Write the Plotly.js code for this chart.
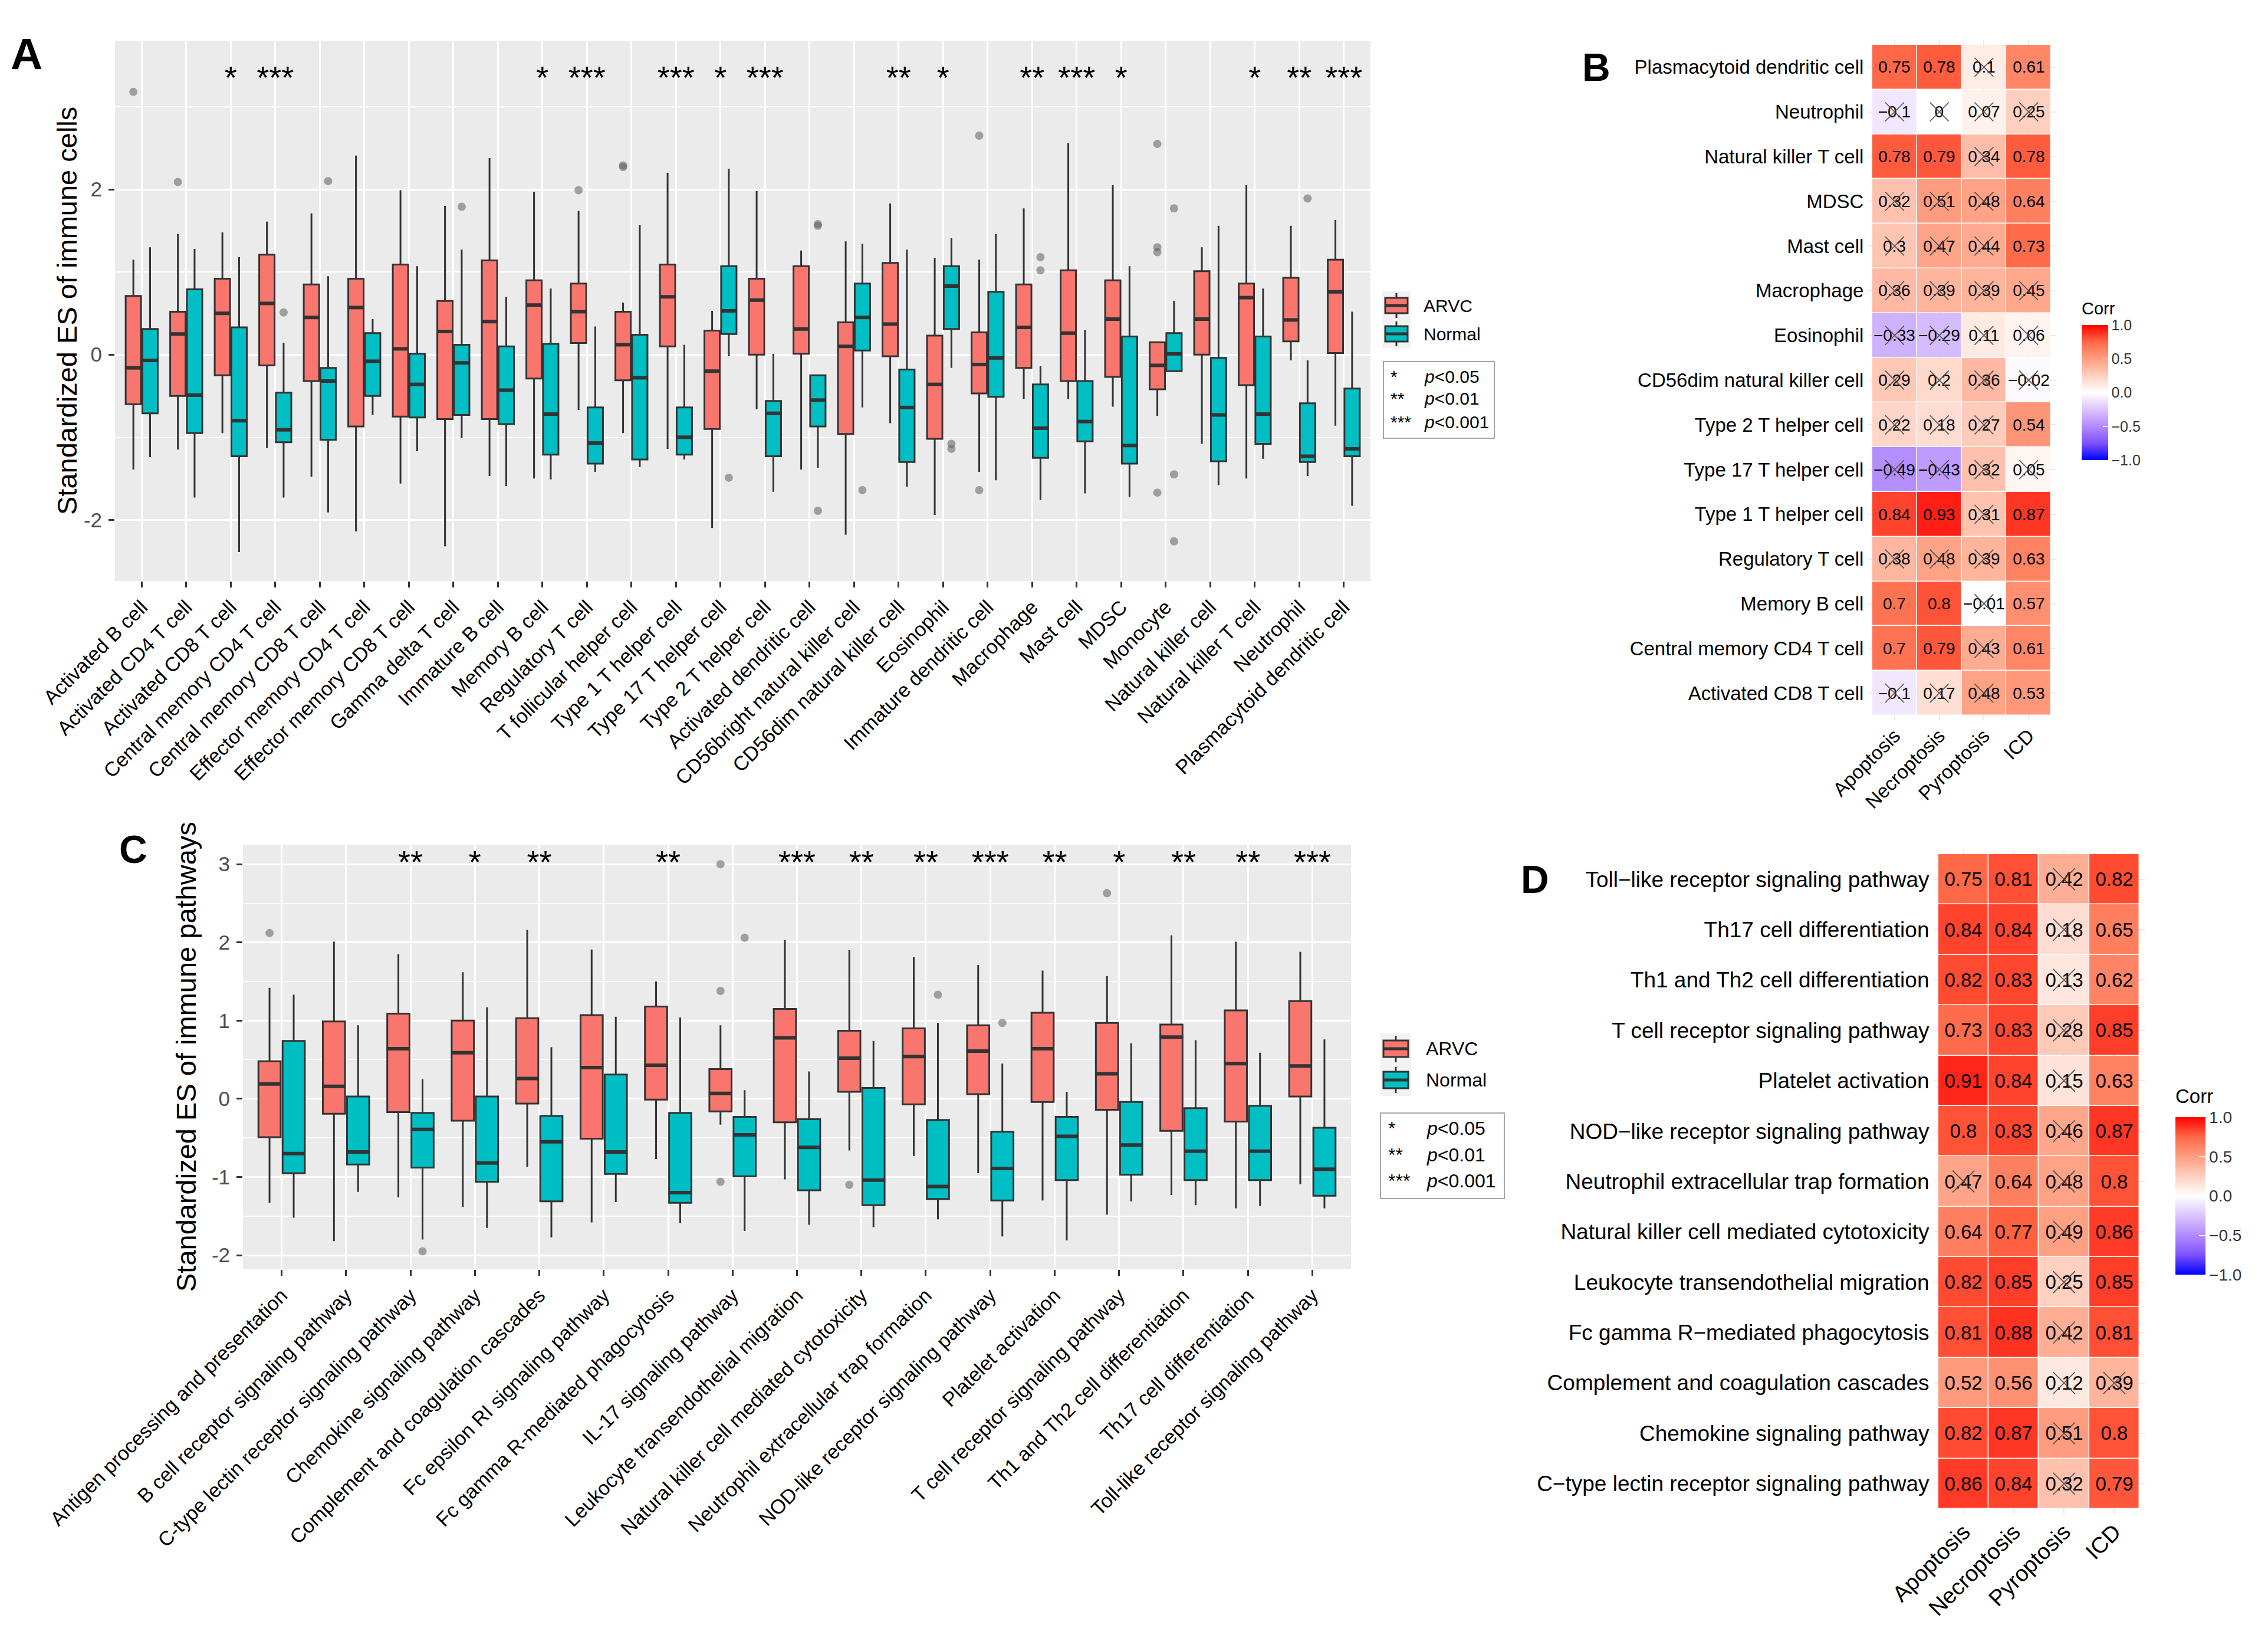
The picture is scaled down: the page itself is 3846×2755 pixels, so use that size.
<!DOCTYPE html>
<html><head><meta charset="utf-8">
<script src="https://cdn.plot.ly/plotly-3.0.1.min.js"></script>
<style>html,body{margin:0;padding:0;background:#fff}</style>
</head><body><div id="chart" style="width:3846px;height:2755px"></div>
<script>
// ---------------- DATA ----------------
const cellTypes = ['Activated B cell','Activated CD4 T cell','Activated CD8 T cell','Central memory CD4 T cell','Central memory CD8 T cell','Effector memory CD4 T cell','Effector memory CD8 T cell','Gamma delta T cell','Immature B cell','Memory B cell','Regulatory T cell','T follicular helper cell','Type 1 T helper cell','Type 17 T helper cell','Type 2 T helper cell','Activated dendritic cell','CD56bright natural killer cell','CD56dim natural killer cell','Eosinophil','Immature dendritic cell','Macrophage','Mast cell','MDSC','Monocyte','Natural killer cell','Natural killer T cell','Neutrophil','Plasmacytoid dendritic cell'];
const A_arvc_q1  = [-0.60,-0.50,-0.25,-0.13,-0.32,-0.87,-0.75,-0.78,-0.78,-0.29,0.14,-0.31,0.10,-0.90,0.00,0.01,-0.96,-0.02,-1.02,-0.47,-0.16,-0.32,-0.27,-0.42,0.00,-0.37,0.16,0.02];
const A_arvc_med = [-0.16,0.25,0.50,0.62,0.45,0.57,0.07,0.28,0.40,0.60,0.52,0.12,0.70,-0.20,0.66,0.31,0.10,0.37,-0.36,-0.12,0.33,0.26,0.43,-0.13,0.43,0.69,0.42,0.76];
const A_arvc_q3  = [0.71,0.52,0.92,1.21,0.85,0.92,1.09,0.65,1.14,0.90,0.86,0.52,1.09,0.29,0.92,1.07,0.39,1.11,0.23,0.27,0.85,1.02,0.90,0.15,1.01,0.86,0.93,1.15];
const A_arvc_lo  = [-1.39,-1.15,-0.95,-1.13,-1.48,-2.14,-1.56,-2.32,-1.47,-1.50,-0.67,-0.95,-1.14,-2.10,-0.66,-1.39,-2.18,-0.83,-1.94,-1.42,-0.54,-0.54,-0.63,-0.74,-1.08,-1.50,-0.07,-0.86];
const A_arvc_hi  = [1.15,1.46,1.48,1.61,1.71,2.41,1.99,1.80,2.38,1.97,1.74,0.63,2.20,0.53,1.98,1.26,1.37,1.83,1.17,1.15,1.77,2.56,2.05,0.16,1.30,2.05,1.56,1.63];
const A_norm_q1  = [-0.71,-0.95,-1.23,-1.06,-1.03,-0.50,-0.76,-0.73,-0.84,-1.21,-1.32,-1.27,-1.21,0.25,-1.23,-0.87,0.05,-1.30,0.31,-0.51,-1.25,-1.05,-1.32,-0.20,-1.29,-1.08,-1.30,-1.23];
const A_norm_med = [-0.07,-0.49,-0.80,-0.91,-0.32,-0.08,-0.36,-0.10,-0.43,-0.72,-1.07,-0.28,-1.00,0.53,-0.71,-0.55,0.45,-0.64,0.83,-0.04,-0.89,-0.81,-1.10,0.01,-0.73,-0.72,-1.23,-1.14];
const A_norm_q3  = [0.31,0.79,0.33,-0.46,-0.16,0.26,0.01,0.12,0.10,0.13,-0.64,0.24,-0.64,1.07,-0.56,-0.25,0.86,-0.18,1.07,0.76,-0.36,-0.32,0.22,0.26,-0.04,0.22,-0.59,-0.41];
const A_norm_lo  = [-1.24,-1.73,-2.39,-1.73,-1.91,-0.73,-1.17,-1.01,-1.59,-1.51,-1.42,-1.36,-1.27,-0.02,-1.66,-1.37,-0.64,-1.60,-0.16,-1.52,-1.76,-1.68,-1.72,-0.21,-1.58,-1.26,-1.47,-1.83];
const A_norm_hi  = [1.30,1.28,1.18,0.14,0.95,0.43,1.07,1.27,0.70,0.80,0.34,1.57,0.12,2.25,0.01,-0.24,1.34,1.27,1.41,1.46,-0.14,0.30,1.07,0.65,1.56,0.80,-0.07,0.52];
const A_out_cat = [0,1,3,4,7,10,11,11,13,15,15,15,16,18,18,19,19,20,20,23,23,23,23,23,23,23,26];
const A_out_grp = ['ARVC','ARVC','Normal','Normal','Normal','ARVC','ARVC','ARVC','Normal','Normal','Normal','Normal','Normal','Normal','Normal','ARVC','ARVC','Normal','Normal','ARVC','ARVC','ARVC','ARVC','Normal','Normal','Normal','Normal'];
const A_out_val = [3.18,2.09,0.51,2.10,1.79,1.99,2.27,2.29,-1.49,1.56,1.58,-1.89,-1.64,-1.08,-1.14,2.65,-1.64,1.18,1.02,2.55,1.30,1.24,-1.67,1.77,-1.45,-2.26,1.89];
const A_stars = ['','','*','***','','','','','','*','***','','***','*','***','','','**','*','','**','***','*','','','*','**','***'];

const pathways = ['Antigen processing and presentation','B cell receptor signaling pathway','C-type lectin receptor signaling pathway','Chemokine signaling pathway','Complement and coagulation cascades','Fc epsilon RI signaling pathway','Fc gamma R-mediated phagocytosis','IL-17 signaling pathway','Leukocyte transendothelial migration','Natural killer cell mediated cytotoxicity','Neutrophil extracellular trap formation','NOD-like receptor signaling pathway','Platelet activation','T cell receptor signaling pathway','Th1 and Th2 cell differentiation','Th17 cell differentiation','Toll-like receptor signaling pathway'];
const C_arvc_q1  = [-0.49,-0.19,-0.17,-0.28,-0.06,-0.51,-0.01,-0.16,-0.30,0.09,-0.07,0.06,-0.04,-0.14,-0.41,-0.29,0.03];
const C_arvc_med = [0.19,0.16,0.64,0.59,0.26,0.40,0.43,0.07,0.78,0.52,0.54,0.61,0.64,0.32,0.79,0.45,0.42];
const C_arvc_q3  = [0.48,0.99,1.09,1.00,1.03,1.07,1.18,0.38,1.15,0.87,0.90,0.94,1.10,0.97,0.95,1.13,1.25];
const C_arvc_lo  = [-1.33,-1.82,-1.26,-1.38,-0.87,-1.58,-0.77,-0.33,-1.03,-0.66,-0.73,-0.95,-1.30,-1.48,-1.23,-1.40,-1.09];
const C_arvc_hi  = [1.42,2.01,1.85,1.62,2.16,1.91,1.50,0.94,2.03,1.90,1.81,1.71,1.64,1.57,2.09,2.01,1.88];
const C_norm_q1  = [-0.95,-0.84,-0.88,-1.06,-1.31,-0.96,-1.33,-0.99,-1.17,-1.36,-1.28,-1.30,-1.04,-0.97,-1.04,-1.04,-1.24];
const C_norm_med = [-0.70,-0.68,-0.39,-0.82,-0.55,-0.68,-1.20,-0.46,-0.62,-1.04,-1.12,-0.89,-0.48,-0.59,-0.67,-0.67,-0.90];
const C_norm_q3  = [0.74,0.03,-0.18,0.03,-0.22,0.31,-0.18,-0.23,-0.26,0.14,-0.27,-0.42,-0.23,-0.04,-0.12,-0.09,-0.37];
const C_norm_lo  = [-1.52,-1.19,-1.80,-1.65,-1.77,-1.32,-1.59,-1.69,-1.61,-1.64,-1.54,-1.76,-1.81,-1.31,-1.36,-1.37,-1.40];
const C_norm_hi  = [1.33,0.94,0.25,1.17,0.66,1.05,1.04,0.11,0.35,0.74,0.97,0.45,0.09,0.71,0.75,0.59,0.76];
const C_out_cat = [0,2,7,7,7,7,9,10,11,13];
const C_out_grp = ['ARVC','Normal','ARVC','ARVC','ARVC','Normal','ARVC','Normal','Normal','ARVC'];
const C_out_val = [2.12,-1.95,3.00,1.38,-1.06,2.06,-1.10,1.33,0.97,2.63];
const C_stars = ['','','**','*','**','','**','','***','**','**','***','**','*','**','**','***'];

const A_yticks = [-2,0,2];
const A_yticktext = ['-2','0','2'];
const C_yticks = [-2,-1,0,1,2,3];
const C_yticktext = ['-2','-1','0','1','2','3'];

const hmCols = ['Apoptosis','Necroptosis','Pyroptosis','ICD'];
const B_rows = ['Activated CD8 T cell','Central memory CD4 T cell','Memory B cell','Regulatory T cell','Type 1 T helper cell','Type 17 T helper cell','Type 2 T helper cell','CD56dim natural killer cell','Eosinophil','Macrophage','Mast cell','MDSC','Natural killer T cell','Neutrophil','Plasmacytoid dendritic cell'];
const B_corr = [
 [-0.1,0.17,0.48,0.53],[0.7,0.79,0.43,0.61],[0.7,0.8,-0.01,0.57],[0.38,0.48,0.39,0.63],
 [0.84,0.93,0.31,0.87],[-0.49,-0.43,0.32,0.05],[0.22,0.18,0.27,0.54],[0.29,0.2,0.36,-0.02],
 [-0.33,-0.29,0.11,0.06],[0.36,0.39,0.39,0.45],[0.3,0.47,0.44,0.73],[0.32,0.51,0.48,0.64],
 [0.78,0.79,0.34,0.78],[-0.1,0,0.07,0.25],[0.75,0.78,0.1,0.61]];
const B_sig = [
 [0,0,0,1],[1,1,0,1],[1,1,0,1],[0,0,0,1],[1,1,0,1],[0,0,0,0],[0,0,0,1],[0,0,0,0],
 [0,0,0,0],[0,0,0,0],[0,0,0,1],[0,0,0,1],[1,1,0,1],[0,0,0,0],[1,1,0,1]];
const D_rows = ['C\u2212type lectin receptor signaling pathway','Chemokine signaling pathway','Complement and coagulation cascades','Fc gamma R\u2212mediated phagocytosis','Leukocyte transendothelial migration','Natural killer cell mediated cytotoxicity','Neutrophil extracellular trap formation','NOD\u2212like receptor signaling pathway','Platelet activation','T cell receptor signaling pathway','Th1 and Th2 cell differentiation','Th17 cell differentiation','Toll\u2212like receptor signaling pathway'];
const D_corr = [
 [0.86,0.84,0.32,0.79],[0.82,0.87,0.51,0.8],[0.52,0.56,0.12,0.39],[0.81,0.88,0.42,0.81],
 [0.82,0.85,0.25,0.85],[0.64,0.77,0.49,0.86],[0.47,0.64,0.48,0.8],[0.8,0.83,0.46,0.87],
 [0.91,0.84,0.15,0.63],[0.73,0.83,0.28,0.85],[0.82,0.83,0.13,0.62],[0.84,0.84,0.18,0.65],
 [0.75,0.81,0.42,0.82]];
const D_sig = [
 [1,1,0,1],[1,1,0,1],[1,1,0,0],[1,1,0,1],[1,1,0,1],[1,1,0,1],[0,1,0,1],[1,1,0,1],
 [1,1,0,1],[1,1,0,1],[1,1,0,1],[1,1,0,1],[1,1,0,1]];
const cbTicks = [-1,-0.5,0,0.5,1];
const cbTickText = ['\u22121.0','\u22120.5','0.0','0.5','1.0'];

// ---------------- STYLE ----------------
const W = 3846, H = 2755;
const FONT = 'Liberation Sans, Arial, Helvetica, sans-serif';
const RED = '#F8766D', TEAL = '#00BFC4', DARK = '#333333';
const OFF = 0.1875, BW = 0.345;
const fx = p => p / W, fy = p => 1 - p / H;
const CS = [[0,'#0000FF'],[0.125,'rgb(126,81,255)'],[0.25,'rgb(178,139,255)'],[0.375,'rgb(220,196,255)'],
            [0.5,'#FFFFFF'],[0.625,'rgb(255,207,191)'],[0.75,'rgb(255,158,129)'],[0.875,'rgb(255,104,70)'],[1,'#FF0000']];

function boxTrace(q1, med, q3, lo, hi, off, color, xa, ya) {
  return {type:'box', x:q1.map((_, i) => i + off), q1:q1, median:med, q3:q3,
    lowerfence:lo, upperfence:hi, fillcolor:color, line:{color:DARK, width:3},
    whiskerwidth:0, width:BW, boxpoints:false, xaxis:xa, yaxis:ya, showlegend:false, hoverinfo:'skip'};
}
function medTrace(med, off, xa, ya) {
  const xs = [], ys = [];
  med.forEach((m, i) => { xs.push(i + off - BW/2 - 0.01, i + off + BW/2 + 0.01, null); ys.push(m, m, null); });
  return {type:'scatter', mode:'lines', x:xs, y:ys, line:{color:DARK, width:6}, xaxis:xa, yaxis:ya, showlegend:false, hoverinfo:'skip'};
}
function outTrace(cat, grp, val, xa, ya) {
  return {type:'scatter', mode:'markers', x:cat.map((c, i) => c + (grp[i] === 'ARVC' ? -OFF : OFF)), y:val,
    marker:{size:14, color:'rgba(95,95,95,0.55)', line:{width:0}}, xaxis:xa, yaxis:ya, showlegend:false, hoverinfo:'skip'};
}
function starTrace(stars, yv, xa, ya) {
  return {type:'scatter', mode:'text', x:stars.map((_, i) => i), y:stars.map(() => yv), text:stars,
    textposition:'middle center', textfont:{size:54, color:'#000', family:FONT}, xaxis:xa, yaxis:ya, showlegend:false, hoverinfo:'skip'};
}
const fmt = v => (v < 0 ? '\u2212' : '') + String(Math.abs(v));
function heatTraces(rows, corr, sig, xa, ya, tsize, xsize, cb) {
  const crossX = [], crossY = [];
  sig.forEach((r, i) => r.forEach((s, j) => { if (!s) { crossX.push(hmCols[j]); crossY.push(rows[i]); } }));
  return [
    {type:'heatmap', x:hmCols, y:rows, z:corr, text:corr.map(r => r.map(fmt)), texttemplate:'%{text}',
     textfont:{size:tsize, color:'#000', family:FONT}, colorscale:CS, zmin:-1, zmax:1, xgap:1.5, ygap:1.5,
     xaxis:xa, yaxis:ya, hoverinfo:'skip', colorbar:cb},
    {type:'scatter', mode:'markers', x:crossX, y:crossY, xaxis:xa, yaxis:ya, showlegend:false, hoverinfo:'skip',
     marker:{symbol:'x-thin', size:xsize, color:'rgba(70,70,70,0.85)', line:{width:1.8, color:'rgba(70,70,70,0.85)'}}}
  ];
}
function cbar(x, yc, len, thick, tf) {
  return {x:fx(x), xanchor:'left', y:fy(yc), yanchor:'middle', len:len, lenmode:'pixels', thickness:thick,
    thicknessmode:'pixels', xpad:0, ypad:0, outlinewidth:0, tickvals:cbTicks, ticktext:cbTickText,
    ticks:'inside', ticklen:thick*0.2, tickcolor:'#FFFFFF', tickwidth:1.5,
    tickfont:{size:tf, color:'#333', family:FONT}};
}

const traces = [
  boxTrace(A_arvc_q1, A_arvc_med, A_arvc_q3, A_arvc_lo, A_arvc_hi, -OFF, RED, 'x', 'y'),
  boxTrace(A_norm_q1, A_norm_med, A_norm_q3, A_norm_lo, A_norm_hi, OFF, TEAL, 'x', 'y'),
  medTrace(A_arvc_med, -OFF, 'x', 'y'), medTrace(A_norm_med, OFF, 'x', 'y'),
  outTrace(A_out_cat, A_out_grp, A_out_val, 'x', 'y'),
  starTrace(A_stars, 3.32, 'x', 'y'),
  boxTrace(C_arvc_q1, C_arvc_med, C_arvc_q3, C_arvc_lo, C_arvc_hi, -OFF, RED, 'x2', 'y2'),
  boxTrace(C_norm_q1, C_norm_med, C_norm_q3, C_norm_lo, C_norm_hi, OFF, TEAL, 'x2', 'y2'),
  medTrace(C_arvc_med, -OFF, 'x2', 'y2'), medTrace(C_norm_med, OFF, 'x2', 'y2'),
  outTrace(C_out_cat, C_out_grp, C_out_val, 'x2', 'y2'),
  starTrace(C_stars, 2.99, 'x2', 'y2'),
  ...heatTraces(B_rows, B_corr, B_sig, 'x3', 'y3', 28, 32, cbar(3530, 665.5, 229, 45, 25)),
  ...heatTraces(D_rows, D_corr, D_sig, 'x4', 'y4', 33, 37, cbar(3689, 2027.5, 267, 51, 28))
];

const baseX = {ticks:'outside', ticklen:10, tickwidth:3, tickcolor:DARK, showgrid:true, gridcolor:'#FFFFFF',
  gridwidth:3, zeroline:false, showline:false, automargin:false, tickangle:-45, fixedrange:true};
const baseY = {ticks:'outside', ticklen:10, tickwidth:3, tickcolor:DARK, showgrid:true, gridcolor:'#FFFFFF',
  gridwidth:3, zeroline:false, showline:false, automargin:false, fixedrange:true, ticklabelstandoff:4,
  tickfont:{size:35, color:'#4D4D4D', family:FONT}};
const hmAx = {type:'category', categoryorder:'array', showgrid:true, gridcolor:'#EBEBEB', gridwidth:2,
  zeroline:false, showline:false, ticks:'', automargin:false, fixedrange:true};

function legendShapes(x0, x1, bx0, bx1, items) {
  const s = [];
  items.forEach(it => {
    s.push({type:'rect', xref:'paper', yref:'paper', x0:fx(x0), x1:fx(x1), y0:fy(it.kb), y1:fy(it.kt), fillcolor:'#F2F2F2', line:{width:0}});
    s.push({type:'line', xref:'paper', yref:'paper', x0:fx((bx0+bx1)/2), x1:fx((bx0+bx1)/2), y0:fy(it.wb), y1:fy(it.wt), line:{color:DARK, width:3}});
    s.push({type:'rect', xref:'paper', yref:'paper', x0:fx(bx0), x1:fx(bx1), y0:fy(it.bb), y1:fy(it.bt), fillcolor:it.c, line:{color:DARK, width:3}});
    s.push({type:'line', xref:'paper', yref:'paper', x0:fx(bx0), x1:fx(bx1), y0:fy(it.m), y1:fy(it.m), line:{color:DARK, width:5}});
  });
  return s;
}
const shapes = [
  {type:'rect', xref:'x domain', yref:'y domain', x0:0, x1:1, y0:0, y1:1, fillcolor:'#EBEBEB', line:{width:0}, layer:'below'},
  {type:'rect', xref:'x2 domain', yref:'y2 domain', x0:0, x1:1, y0:0, y1:1, fillcolor:'#EBEBEB', line:{width:0}, layer:'below'},
  ...legendShapes(2344, 2392, 2349, 2387, [
    {kt:494, kb:542, wt:497, wb:539, bt:505, bb:531, m:518, c:RED},
    {kt:542, kb:590, wt:545, wb:587, bt:553, bb:579, m:566, c:TEAL}]),
  ...legendShapes(2341, 2393, 2346, 2388, [
    {kt:1752, kb:1805, wt:1756, wb:1801, bt:1764, bb:1792, m:1778, c:RED},
    {kt:1805, kb:1858, wt:1809, wb:1853, bt:1817, bb:1845, m:1831, c:TEAL}]),
  {type:'rect', xref:'paper', yref:'paper', x0:fx(2346), x1:fx(2534), y0:fy(743), y1:fy(613), line:{color:'#A6A6A6', width:2}},
  {type:'rect', xref:'paper', yref:'paper', x0:fx(2341), x1:fx(2551), y0:fy(2032), y1:fy(1887), line:{color:'#A6A6A6', width:2}}
];

function ann(text, x, y, size, opts) {
  return Object.assign({text:text, xref:'paper', yref:'paper', x:fx(x), y:fy(y), showarrow:false,
    xanchor:'left', yanchor:'middle', font:{size:size, color:'#000', family:FONT}}, opts || {});
}
const pLab = ['*', '**', '***'];
const pTxt = ['<i>p</i>&lt;0.05', '<i>p</i>&lt;0.01', '<i>p</i>&lt;0.001'];
const annotations = [
  ann('<b>A</b>', 45, 91, 75, {xanchor:'center'}),
  ann('<b>B</b>', 2707, 114, 66, {xanchor:'center'}),
  ann('<b>C</b>', 226, 1440, 66, {xanchor:'center'}),
  ann('<b>D</b>', 2603, 1491, 66, {xanchor:'center'}),
  ann('Standardized ES of immune cells', 113, 527, 47, {xanchor:'center', textangle:-90}),
  ann('Standardized ES of immune pathways', 315, 1792, 47, {xanchor:'center', textangle:-90}),
  ann('Corr', 3528, 523, 29), ann('Corr', 3687, 1858, 33),
  ann('ARVC', 2412, 518, 30), ann('Normal', 2412, 566, 30),
  ann('ARVC', 2416, 1778, 32), ann('Normal', 2416, 1831, 32),
  ...pLab.map((t, i) => ann(t, 2356, [638, 676, 716][i], 30)),
  ...pTxt.map((t, i) => ann(t, 2413, [638, 676, 716][i], 30)),
  ...pLab.map((t, i) => ann(t, 2352, [1913, 1958, 2002][i], 32)),
  ...pTxt.map((t, i) => ann(t, 2417, [1913, 1958, 2002][i], 32))
];

const layout = {
  width:W, height:H, autosize:false, margin:{l:0, r:0, t:0, b:0, pad:0},
  paper_bgcolor:'#FFFFFF', plot_bgcolor:'rgba(0,0,0,0)', boxmode:'overlay',
  font:{family:FONT, color:'#000'}, showlegend:false,
  xaxis: Object.assign({}, baseX, {domain:[fx(195), fx(2324)], anchor:'y', range:[-0.6, cellTypes.length - 0.4],
    tickvals:cellTypes.map((_, i) => i), ticktext:cellTypes, tickfont:{size:34, color:'#000', family:FONT}}),
  yaxis: Object.assign({}, baseY, {domain:[fy(985), fy(69)], anchor:'x', range:[-2.74, 3.8],
    tickvals:A_yticks, ticktext:A_yticktext,
    minor:{tickvals:[-1, 1, 3], showgrid:true, gridcolor:'#FFFFFF', gridwidth:1.5, ticks:''}}),
  xaxis2: Object.assign({}, baseX, {domain:[fx(412), fx(2291)], anchor:'y2', range:[-0.6, pathways.length - 0.4],
    tickvals:pathways.map((_, i) => i), ticktext:pathways, tickfont:{size:34, color:'#000', family:FONT}}),
  yaxis2: Object.assign({}, baseY, {domain:[fy(2152), fy(1432)], anchor:'x2', range:[-2.18, 3.25],
    tickvals:C_yticks, ticktext:C_yticktext,
    minor:{tickvals:[-1.5, -0.5, 0.5, 1.5, 2.5], showgrid:true, gridcolor:'#FFFFFF', gridwidth:1.5, ticks:''}}),
  xaxis3: Object.assign({}, hmAx, {domain:[fx(3167.4), fx(3485.6)], anchor:'y3', categoryarray:hmCols,
    range:[-0.6, 3.6], tickangle:-45, tickfont:{size:33, color:'#000', family:FONT}}),
  yaxis3: Object.assign({}, hmAx, {domain:[fy(1220.6), fy(68.4)], anchor:'x3', categoryarray:B_rows,
    range:[-0.6, B_rows.length - 0.4], ticklabelstandoff:6, tickfont:{size:33, color:'#000', family:FONT}}),
  xaxis4: Object.assign({}, hmAx, {domain:[fx(3278.5), fx(3636.5)], anchor:'y4', categoryarray:hmCols,
    range:[-0.6, 3.6], tickangle:-45, tickfont:{size:38, color:'#000', family:FONT}}),
  yaxis4: Object.assign({}, hmAx, {domain:[fy(2566.5), fy(1439.5)], anchor:'x4', categoryarray:D_rows,
    range:[-0.6, D_rows.length - 0.4], ticklabelstandoff:6, tickfont:{size:37, color:'#000', family:FONT}}),
  shapes:shapes, annotations:annotations
};

Plotly.newPlot('chart', traces, layout, {staticPlot:true, displayModeBar:false});
</script></body></html>
